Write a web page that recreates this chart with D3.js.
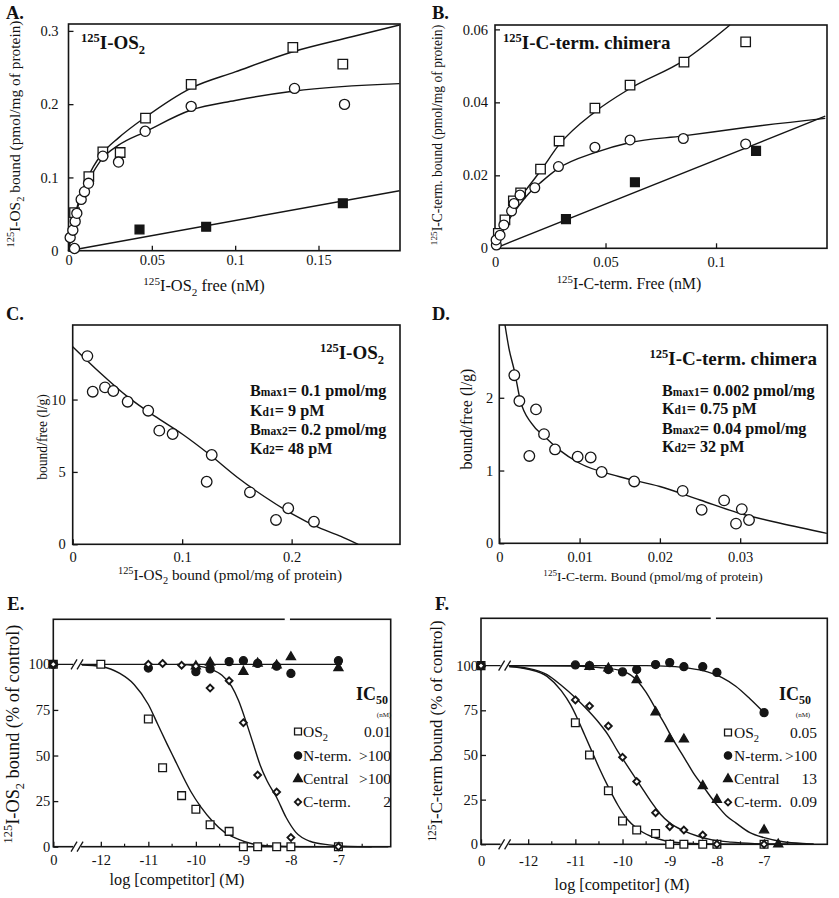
<!DOCTYPE html>
<html><head><meta charset="utf-8">
<script src="https://cdn.jsdelivr.net/npm/d3@7"></script>
<style>
body{margin:0;background:#fff}
svg{display:block}
svg text{font-family:"Liberation Serif","DejaVu Serif","Times New Roman",serif;fill:#111}
</style>
</head><body>
<svg id="c" width="839" height="898" font-family="Liberation Serif, serif"></svg>
<script>
// ---------------- DATA ----------------
// Panel A : 125I-OS2 saturation
const aTotal   = [[0.0036,0.052],[0.0122,0.101],[0.0206,0.135],[0.031,0.134],[0.0462,0.181],[0.0736,0.227],[0.1346,0.2775],[0.1646,0.2547]];
const aSpec    = [[0.0036,0.003],[0.001,0.018],[0.0026,0.028],[0.004,0.040],[0.005,0.051],[0.0076,0.070],[0.0096,0.0805],[0.012,0.092],[0.0206,0.129],[0.030,0.121],[0.046,0.163],[0.0736,0.197],[0.1356,0.2215],[0.1656,0.1997]];
const aNonspec = [[0.0426,0.029],[0.0826,0.0327],[0.1646,0.0647]];
const aTotalFit = [[0,0],[0.002,0.026],[0.005,0.058],[0.01,0.092],[0.015,0.115],[0.02,0.132],[0.03,0.154],[0.046,0.182],[0.0736,0.222],[0.1,0.244],[0.1346,0.2715],[0.17,0.292],[0.1986,0.308]];
const aSpecFit  = [[0,0],[0.002,0.025],[0.005,0.055],[0.01,0.088],[0.015,0.108],[0.02,0.125],[0.03,0.144],[0.046,0.1623],[0.0736,0.192],[0.1,0.205],[0.1356,0.218],[0.1986,0.228]];
const aNonspecFit = [[0,0],[0.1986,0.0819]];
const aXTicks = [0,0.05,0.1,0.15];
const aYTicks = [0,0.1,0.2,0.3];

// Panel B : 125I-C-term chimera saturation
const bTotal   = [[0.0015,0.0041],[0.0045,0.0078],[0.0083,0.013],[0.0116,0.0152],[0.0206,0.0217],[0.029,0.0294],[0.0452,0.0384],[0.0611,0.0447],[0.0855,0.051],[0.1134,0.0566]];
const bSpec    = [[0.0006,0.0009],[0.0005,0.0023],[0.0023,0.0036],[0.004,0.0064],[0.0075,0.0102],[0.0086,0.0123],[0.0113,0.0146],[0.018,0.0166],[0.0287,0.0224],[0.0452,0.0277],[0.0611,0.0297],[0.0852,0.0301],[0.1134,0.0286]];
const bNonspec = [[0.0321,0.008],[0.0633,0.0181],[0.1181,0.0267]];
const bTotalFit = [[0,0],[0.003,0.0045],[0.006,0.0085],[0.01,0.0128],[0.015,0.0168],[0.0208,0.0214],[0.029,0.0284],[0.0452,0.0374],[0.0611,0.0438],[0.0855,0.0515],[0.1063,0.0612]];
const bSpecFit  = [[0,0],[0.003,0.004],[0.006,0.0075],[0.01,0.011],[0.015,0.0148],[0.021,0.0182],[0.0287,0.0219],[0.0452,0.0262],[0.0611,0.029],[0.0852,0.0308],[0.1134,0.0331],[0.1494,0.0356]];
const bNonspecFit = [[0,0],[0.1494,0.0362]];
const bXTicks = [0,0.05,0.1];
const bYTicks = [0,0.02,0.04,0.06];

// Panel C : Scatchard 125I-OS2
const cPts = [[0.0134,13.0],[0.0183,10.54],[0.0295,10.84],[0.0371,10.59],[0.0502,9.85],[0.069,9.23],[0.0791,7.85],[0.0913,7.62],[0.1224,4.32],[0.127,6.17],[0.1619,3.59],[0.1857,1.68],[0.1969,2.49],[0.2204,1.56]];
const cFit = [[0,13.65],[0.025,11.85],[0.05,10.2],[0.075,8.85],[0.1,7.62],[0.125,6.2],[0.15,4.65],[0.175,3.3],[0.2,2.12],[0.225,1.15],[0.245,0.55],[0.2608,0]];
const cXTicks = [0,0.1,0.2];
const cYTicks = [0,5,10];

// Panel D : Scatchard 125I-C-term chimera
const dPts = [[0.00187,2.31],[0.0025,1.955],[0.00457,1.84],[0.00374,1.2],[0.00557,1.5],[0.00694,1.29],[0.00976,1.19],[0.01138,1.18],[0.01275,0.98],[0.0168,0.85],[0.02284,0.72],[0.0252,0.46],[0.028,0.59],[0.02948,0.27],[0.0302,0.47],[0.0311,0.32]];
const dFit = [[0.00071,3.0],[0.0012,2.68],[0.0019,2.36],[0.0026,1.97],[0.004,1.65],[0.0057,1.46],[0.0075,1.28],[0.01,1.1],[0.015,0.915],[0.02,0.78],[0.025,0.595],[0.03,0.41],[0.035,0.275],[0.0408,0.137]];
const dXTicks = [0,0.01,0.02,0.03];
const dYTicks = [0,1,2];

// Panel E : competition for 125I-OS2 (log M; -13 = control "0")
const eOS2     = [[-13,100],[-12,100],[-11,70],[-10.7,43.3],[-10.3,28],[-10,20.5],[-9.7,12],[-9.3,8.4],[-9,0],[-8.7,0],[-8.3,0],[-8,0],[-7,0]];
const eNterm   = [[-13,100],[-11,98],[-10,96],[-9.7,97.5],[-9.3,101.5],[-9,102],[-8.7,100.5],[-8.3,99],[-8,95],[-7,102]];
const eCentral = [[-10,99],[-9.7,101],[-9,96],[-8.7,100.5],[-8.3,99.5],[-8,104],[-7,98]];
const eCterm   = [[-13,100],[-11,100],[-10.7,100.5],[-10.3,99.5],[-10,99],[-9.7,87],[-9.3,91],[-9,68],[-8.7,39.3],[-8.3,30],[-8,5],[-7,0]];
const eFlatFit  = [[-13,100],[-6.93,100]];
const eOS2Fit   = [[-12.4,99.6],[-12,98.8],[-11.6,95],[-11.3,89],[-11,78],[-10.8,67],[-10.6,56],[-10.45,48],[-10.3,40],[-10.1,30],[-9.9,22],[-9.65,14],[-9.4,8],[-9.1,4],[-8.8,1.5],[-8.4,0.4],[-7.8,0],[-5.95,0]];
const eCtermFit = [[-10.4,100],[-10,99.3],[-9.7,97.5],[-9.45,94],[-9.25,88],[-9.1,80],[-8.95,69],[-8.8,57],[-8.65,45],[-8.5,36],[-8.3,27],[-8.1,16],[-7.9,8],[-7.6,3],[-7.2,1],[-6.8,0.2],[-6.3,0]];
const eLegend = [["OS2","0.01"],["N-term.",">100"],["Central",">100"],["C-term.","2"]];

// Panel F : competition for 125I-C-term chimera
const fOS2     = [[-13,100],[-11,68],[-10.7,50],[-10.3,30],[-10,13],[-9.7,8],[-9.3,6],[-9,0],[-8.7,0],[-8.3,0],[-8,0],[-7,0]];
const fNterm   = [[-13,100],[-11,100.4],[-10.7,100],[-10.3,97.8],[-10,96.5],[-9.7,97.8],[-9.3,100.6],[-9,101.7],[-8.7,99.4],[-8.3,99.4],[-8,96.2],[-7,73.7]];
const fCentral = [[-10.7,99.4],[-10.3,98.5],[-9.7,92],[-9.3,74],[-9,59],[-8.7,58.8],[-8.3,32.7],[-8,25],[-7,7.9],[-6.7,0]];
const fCterm   = [[-13,100],[-11,80.8],[-10.7,77.4],[-10.3,66.2],[-10,48.7],[-9.7,35.1],[-9.3,17.7],[-9,9.9],[-8.7,8],[-8.3,5.2],[-8,0],[-7,0]];
const fNtermFit   = [[-13,100],[-9.5,100],[-9,99.6],[-8.6,98.6],[-8.2,96.5],[-7.9,93.5],[-7.6,88.5],[-7.3,81.5],[-7,73.7]];
const fOS2Fit     = [[-12.4,99.5],[-12,98],[-11.6,94],[-11.3,86],[-11.1,78],[-10.95,70],[-10.8,61],[-10.65,52],[-10.5,43],[-10.3,32],[-10.1,22],[-9.9,14],[-9.7,9],[-9.4,4.5],[-9.1,2],[-8.7,0.7],[-8.2,0.2],[-7.5,0],[-5.95,0]];
const fCtermFit   = [[-12.4,99.5],[-12,98.5],[-11.6,95],[-11.3,89],[-11,82],[-10.7,74],[-10.5,68],[-10.3,61],[-10.1,52],[-9.95,46],[-9.8,40],[-9.6,32],[-9.4,24],[-9.2,17],[-9,12],[-8.7,7.5],[-8.4,4.5],[-8.1,2.5],[-7.7,1.2],[-7.2,0.4],[-6.5,0]];
const fCentralFit = [[-12.4,100],[-11,99.8],[-10.5,99],[-10,97],[-9.67,91],[-9.5,85],[-9.28,75],[-9.1,67],[-8.96,60],[-8.8,53],[-8.66,47],[-8.5,40],[-8.28,32],[-8,22],[-7.8,16],[-7.6,12],[-7.3,6.5],[-7,3.7],[-6.6,1.4],[-6.1,0.3],[-5.95,0.1]];
const fLegend = [["OS2","0.05"],["N-term.",">100"],["Central","13"],["C-term.","0.09"]];

const logMajor = [-13,-12,-11,-10,-9,-8,-7];
const logMinor = [-11.5,-10.5,-9.5,-8.5,-7.5,-6.5];
const pctTicks = [0,25,50,75,100];

// ---------------- HELPERS ----------------
const svg = d3.select('#c');
const INK = '#151515';
const SERIF = '"Liberation Serif","DejaVu Serif",serif';

function rich(sel, parts, size){
  let shift = 0;
  parts.forEach(p=>{
    const t = (typeof p === 'string') ? {t:p} : p;
    const target = t.s==='sup' ? -size*0.38 : (t.s==='sub' ? size*0.28 : 0);
    const ts = sel.append('tspan').text(t.t).attr('dy', target - shift);
    if (t.s) ts.attr('font-size', t.fs || size*0.68);
    shift = target;
  });
  return sel;
}

function panel(o){
  const g = svg.append('g');
  const x = d3.scaleLinear().domain(o.xd).range([o.left,o.right]);
  const y = d3.scaleLinear().domain(o.yd).range([o.bottom,o.top]);
  return {g,x,y,o};
}

function frame(P, gap){
  const o = P.o;
  P.g.append('rect').attr('x',o.left).attr('y',o.top).attr('width',o.right-o.left).attr('height',o.bottom-o.top)
    .attr('fill','none').attr('stroke',INK).attr('stroke-width',1.6);
  if (gap){
    P.g.append('line').attr('x1',P.x(gap[0])).attr('x2',P.x(gap[1])).attr('y1',o.top).attr('y2',o.top)
      .attr('stroke','#fff').attr('stroke-width',3);
  }
}

function axes(P, xt, xf, yt, yf, xpad, ypad, tickLen){
  const o = P.o;
  const ax = P.g.append('g').attr('transform',`translate(0,${o.bottom})`)
    .call(d3.axisBottom(P.x).tickValues(xt).tickFormat(xf).tickSizeInner(-tickLen).tickSizeOuter(0).tickPadding(xpad));
  const ay = P.g.append('g').attr('transform',`translate(${o.left},0)`)
    .call(d3.axisLeft(P.y).tickValues(yt).tickFormat(yf).tickSizeInner(-tickLen).tickSizeOuter(0).tickPadding(ypad));
  [ax,ay].forEach(a=>{
    a.attr('font-family', SERIF).attr('font-size', null);
    a.select('.domain').remove();
    a.selectAll('line').attr('stroke',INK).attr('stroke-width',1.3);
    a.selectAll('text').attr('font-size',14.5).attr('font-family',SERIF);
  });
  return {ax,ay};
}

function line(P, data, w){
  P.g.append('path').datum(data)
    .attr('d', d3.line().x(d=>P.x(d[0])).y(d=>P.y(d[1])).curve(d3.curveMonotoneX))
    .attr('fill','none').attr('stroke',INK).attr('stroke-width',w||1.4);
}

const SYM = {
  osq:d3.symbolSquare, fsq:d3.symbolSquare, ocirc:d3.symbolCircle, fcirc:d3.symbolCircle,
  ftri:d3.symbolTriangle, odia:(d3.symbolDiamond2 || d3.symbolDiamond)
};
function markers(P, data, type, sz){
  const filled = type[0]==='f';
  P.g.append('g').selectAll('path').data(data).join('path')
    .attr('transform', d=>`translate(${P.x(d[0])},${P.y(d[1])})`)
    .attr('d', d3.symbol().type(SYM[type]).size(sz))
    .attr('fill', filled ? INK : '#fff')
    .attr('stroke', INK).attr('stroke-width', type==='odia' ? 1.9 : 1.3);
}

function label(txt, x, y){
  svg.append('text').attr('x',x).attr('y',y).attr('font-size',18.5).attr('font-weight','bold').attr('font-family',SERIF).text(txt);
}

function yTitle(parts, x, y, size){
  const t = svg.append('text').attr('transform',`translate(${x},${y}) rotate(-90)`)
    .attr('text-anchor','middle').attr('font-size',size).attr('font-family',SERIF);
  rich(t, parts, size);
}
function xTitle(parts, x, y, size){
  const t = svg.append('text').attr('x',x).attr('y',y).attr('text-anchor','middle').attr('font-size',size).attr('font-family',SERIF);
  rich(t, parts, size);
}
function boldTitle(g, parts, x, y, anchor){
  const t = g.append('text').attr('x',x).attr('y',y).attr('font-size',19).attr('font-weight','bold')
    .attr('text-anchor',anchor).attr('font-family',SERIF);
  rich(t, parts, 19);
}
function params(g, rows, x, ys){
  rows.forEach((r,i)=>{
    const tt = g.append('text').attr('x',x).attr('y',ys[i]).attr('font-size',16.2).attr('font-weight','bold').attr('font-family',SERIF);
    tt.append('tspan').text(r[0]);
    tt.append('tspan').attr('font-size',11.5).text(r[1]);
    tt.append('tspan').text(r[2]);
  });
}

function brk(P, xv, yv){
  const cx = P.x(xv), cy = P.y(yv);
  P.g.append('rect').attr('x',cx-4).attr('y',cy-3).attr('width',8).attr('height',6).attr('fill','#fff');
  [-3,3].forEach(d=>{
    P.g.append('line').attr('x1',cx+d-3).attr('y1',cy+5).attr('x2',cx+d+3).attr('y2',cy-5)
      .attr('stroke',INK).attr('stroke-width',1.3);
  });
}

const fmt = d => d===0 ? '0' : String(d);
const SUP = {t:'125',s:'sup'}, SUB2 = {t:'2',s:'sub'};

// ---------------- PANEL A ----------------
{
  const P = panel({left:68.5,right:400,top:24,bottom:250.7,xd:[0,0.1989],yd:[0,0.3094]});
  frame(P);
  axes(P, aXTicks, fmt, aYTicks, fmt, 4, 10, 5);
  line(P, aTotalFit); line(P, aSpecFit); line(P, aNonspecFit);
  markers(P, aNonspec, 'fsq', 78);
  markers(P, aTotal, 'osq', 90);
  markers(P, aSpec, 'ocirc', 80);
  label('A.', 6, 19);
  boldTitle(P.g, [{t:'125',s:'sup',fs:12.5},'I-OS',{t:'2',s:'sub',fs:12.5}], 81, 49, 'start');
  yTitle([SUP,'I-OS',SUB2,' bound (pmol/mg of protein)'], 20, 134, 15.4);
  xTitle([SUP,'I-OS',SUB2,' free (nM)'], 204, 291, 16.4);
}

// ---------------- PANEL B ----------------
{
  const P = panel({left:495,right:827,top:25,bottom:248.3,xd:[0,0.1502],yd:[0,0.0612]});
  frame(P);
  axes(P, bXTicks, fmt, bYTicks, fmt, 8, 7, 5);
  line(P, bTotalFit); line(P, bSpecFit); line(P, bNonspecFit);
  markers(P, bNonspec, 'fsq', 78);
  markers(P, bTotal, 'osq', 90);
  markers(P, bSpec, 'ocirc', 75);
  label('B.', 432, 19);
  boldTitle(P.g, [{t:'125',s:'sup',fs:12.5},'I-C-term. chimera'], 503, 49, 'start');
  yTitle([SUP,'I-C-term. bound (pmol/mg of protein)'], 442, 135, 13.6);
  xTitle([SUP,'I-C-term. Free (nM)'], 629, 289, 15.9);
}

// ---------------- PANEL C ----------------
{
  const P = panel({left:72.7,right:400,top:325,bottom:544.3,xd:[0,0.299],yd:[0,15.15]});
  frame(P);
  axes(P, cXTicks, fmt, cYTicks, fmt, 7, 7, 5);
  line(P, cFit);
  markers(P, cPts, 'ocirc', 88);
  label('C.', 6, 320);
  boldTitle(P.g, [{t:'125',s:'sup',fs:12.5},'I-OS',{t:'2',s:'sub',fs:12.5}], 384, 359, 'end');
  params(P.g, [['B','max1','= 0.1 pmol/mg'],['K','d1','= 9 pM'],['B','max2','= 0.2 pmol/mg'],['K','d2','= 48 pM']], 250, [396,415.5,435,454]);
  yTitle(['bound/free (l/g)'], 46.5, 437, 13.6);
  xTitle([SUP,'I-OS',SUB2,' bound (pmol/mg of protein)'], 230, 580, 15.2);
}

// ---------------- PANEL D ----------------
{
  const P = panel({left:499.3,right:827.3,top:325,bottom:543.3,xd:[0,0.04085],yd:[0,3.0]});
  frame(P);
  axes(P, dXTicks, fmt, dYTicks, fmt, 8, 6, 5);
  line(P, dFit);
  markers(P, dPts, 'ocirc', 88);
  label('D.', 432, 320);
  boldTitle(P.g, [{t:'125',s:'sup',fs:12.5},'I-C-term. chimera'], 817, 365, 'end');
  params(P.g, [['B','max1','= 0.002 pmol/mg'],['K','d1','= 0.75 pM'],['B','max2','= 0.04 pmol/mg'],['K','d2','= 32 pM']], 662, [395.5,414,434,452]);
  yTitle(['bound/free (l/g)'], 472, 419, 16);
  xTitle([SUP,'I-C-term. Bound (pmol/mg of protein)'], 653, 581, 13.4);
}

// ---------------- PANEL E / F ----------------
function compPanel(geom, data, legend, ytitleParts, ytx, yty, ysz, lg, lab){
  const P = panel(geom);
  frame(P, [-8.13,-8.02]);
  axes(P, logMajor, d=> d===-13 ? '0' : String(d), pctTicks, fmt, geom.xpad, geom.ypad, 5);
  P.g.append('g').selectAll('line').data(logMinor).join('line')
    .attr('x1',d=>P.x(d)).attr('x2',d=>P.x(d)).attr('y1',geom.bottom).attr('y2',geom.bottom-3)
    .attr('stroke',INK).attr('stroke-width',1.2);
  data.fits.forEach(f=>line(P,f,1.4));
  brk(P, -12.5, 100); brk(P, -12.5, 0);
  markers(P, data.os2, 'osq', 60);
  markers(P, data.nterm, 'fcirc', 50);
  markers(P, data.central, 'ftri', 36);
  markers(P, data.cterm, 'odia', 30);
  label(lab, geom.left-46, 610);
  // legend
  const t = svg.append('text').attr('x',lg.icx).attr('y',lg.icy).attr('font-size',18).attr('font-weight','bold').attr('font-family',SERIF);
  rich(t, ['IC',{t:'50',s:'sub',fs:12}], 16);
  svg.append('text').attr('x',lg.nmx).attr('y',lg.nmy).attr('font-size',7).attr('text-anchor','middle').attr('font-family',SERIF).text('(nM)');
  const types = [d3.symbolSquare,d3.symbolCircle,d3.symbolTriangle,SYM.odia], sizes=[48,42,34,26];
  legend.forEach((r,i)=>{
    const yy = lg.rows[i];
    svg.append('path').attr('transform',`translate(${lg.mx},${yy})`).attr('d',d3.symbol().type(types[i]).size(sizes[i]))
      .attr('fill', (i===1||i===2)?INK:'#fff').attr('stroke',INK).attr('stroke-width', i===3?1.8:1.3);
    const tx = svg.append('text').attr('x',lg.tx).attr('y',yy+5).attr('font-size',15.5).attr('font-family',SERIF);
    if (r[0]==='OS2') rich(tx, ['OS',{t:'2',s:'sub',fs:10.5}], 15.5); else tx.text(r[0]);
    svg.append('text').attr('x',lg.vx).attr('y',yy+5).attr('font-size',15.5).attr('text-anchor','end').attr('font-family',SERIF).text(r[1]);
  });
  yTitle(ytitleParts, ytx, yty, ysz);
  xTitle(['log [competitor] (M)'], geom.xtx, geom.xty, 16.2);
  return P;
}

compPanel({left:53.3,right:390.7,top:619.3,bottom:846.7,xd:[-13,-5.9],yd:[0,124.7],xpad:8,ypad:3,xtx:177,xty:885},
  {os2:eOS2,nterm:eNterm,central:eCentral,cterm:eCterm,fits:[eFlatFit,eOS2Fit,eCtermFit]},
  eLegend,
  [SUP,'I-OS',SUB2,' bound (% of control)'], 19, 734, 18.3,
  {icx:356,icy:700,nmx:384,nmy:717,rows:[731.5,755.5,779,802],mx:298,tx:303,vx:391}, 'E.');

compPanel({left:481,right:827.3,top:618.3,bottom:844.3,xd:[-13,-5.66],yd:[0,126.5],xpad:11,ypad:3,xtx:622,xty:890},
  {os2:fOS2,nterm:fNterm,central:fCentral,cterm:fCterm,fits:[fNtermFit,fOS2Fit,fCtermFit,fCentralFit]},
  fLegend,
  [SUP,'I-C-term bound (% of control)'], 442, 731, 16.8,
  {icx:779,icy:700,nmx:803,nmy:717,rows:[732.5,755.5,779,802.3],mx:728,tx:734,vx:817}, 'F.');
</script>
</body></html>
